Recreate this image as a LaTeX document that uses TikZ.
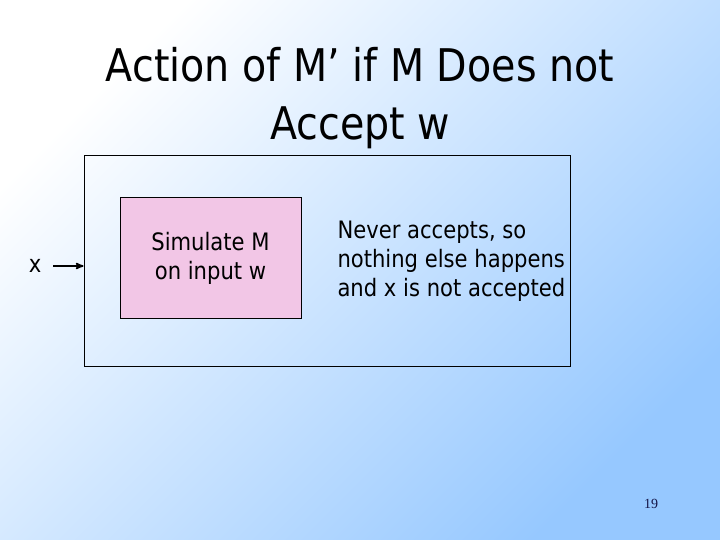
\documentclass[tikz,border=0pt]{standalone}
\usepackage{fontspec}
\setmainfont[FakeStretch=0.88]{DejaVu Sans}
\newfontfamily\numfont{Liberation Serif}
\usepackage{tikz}
\usetikzlibrary{arrows}
\usetikzlibrary{positioning}

\definecolor{slideblue}{RGB}{150,200,255}
\definecolor{simpink}{RGB}{242,198,230}
\definecolor{numblue}{RGB}{20,20,70}

\begin{document}
\begin{tikzpicture}[->,>=stealth',x=1pt,y=-1pt,line width=1pt,
                    frame node/.style={rectangle,draw,minimum width=486pt,minimum height=210pt,inner sep=0pt},
                    sim node/.style={rectangle,draw,fill=simpink,minimum width=181pt,minimum height=120pt,
                                     align=center,font=\fontsize{24}{29}\selectfont},
                    note node/.style={align=left,font=\fontsize{24}{29}\selectfont,inner sep=0pt}]

  % slide background
  \shade[top color=white,bottom color=slideblue,shading angle=45,draw=none]
    (0,0) rectangle (720,540);
  \useasboundingbox (0,0) rectangle (720,540);

  \node[align=center,font=\fontsize{45}{58}\selectfont] (title) at (360,98)
    {Action of M’ if M Does not\\Accept w};

  \node[frame node] (machine) at (327,261) {};
  \node[sim node] (sim) at (210.5,258) {Simulate M\\on input w};
  \node[note node,anchor=west] (note) at (337,261)
    {Never accepts, so\\nothing else happens\\and x is not accepted};

  \node[font=\fontsize{24}{29}\selectfont] (x) at (35,266) {x};
  \node[font=\numfont\fontsize{14}{16}\selectfont,text=numblue] (page) at (651,504) {19};

  \path
    (x) edge[line width=1.6pt,shorten <=8pt] (machine.west |- x)
;
\end{tikzpicture}
\end{document}
